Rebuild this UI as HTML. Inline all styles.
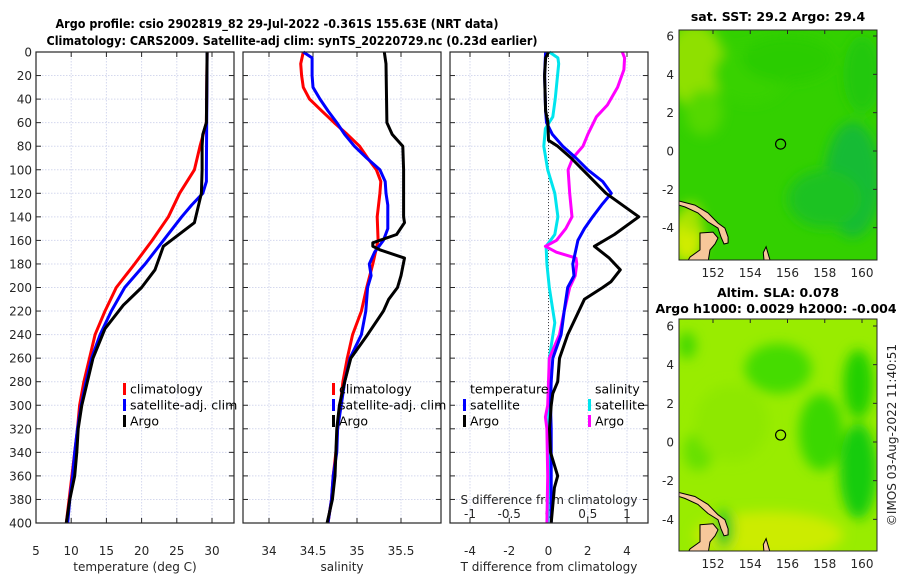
<!DOCTYPE html>
<html><head><meta charset="utf-8">
<style>
html,body{margin:0;padding:0;background:#fff;}
svg{display:block;font-family:"DejaVu Sans","Liberation Sans",sans-serif;}
.tk{font-size:12px;fill:#262626;}
.ttl{font-size:12.5px;font-weight:bold;fill:#000;}
.lg{font-size:12.5px;fill:#000;}
</style></head>
<body>
<svg id="root" width="900" height="580" viewBox="0 0 900 580" xmlns="http://www.w3.org/2000/svg">
<text class="ttl" x="277" y="28" text-anchor="middle" textLength="443" lengthAdjust="spacingAndGlyphs">Argo profile: csio 2902819_82 29-Jul-2022 -0.361S 155.63E (NRT data)</text>
<text class="ttl" x="292" y="45" text-anchor="middle" textLength="491" lengthAdjust="spacingAndGlyphs">Climatology: CARS2009. Satellite-adj clim: synTS_20220729.nc (0.23d earlier)</text>
<g id="p1"></g>
<g id="p2"></g>
<g id="p3"></g>
<g id="m1"></g>
<g id="m2"></g>
<text class="tk" transform="translate(896,435) rotate(-90)" text-anchor="middle" font-size="12.5">©IMOS 03-Aug-2022 11:40:51</text>
</svg>
<script>
// ---- data (depth in m) ----
const depthTicks = [0,20,40,60,80,100,120,140,160,180,200,220,240,260,280,300,320,340,360,380,400];
const tempTicks = [5,10,15,20,25,30];
const salTicks = [34,34.5,35,35.5];
const salTickLabels = ["34","34.5","35","35.5"];
const tdiffTicks = [-4,-2,0,2,4];
const sdiffTicks = [-1,-0.5,0,0.5,1];
const sdiffTickLabels = ["-1","-0.5","0","0.5","1"];

const tClimDepth = [0,60,80,100,120,140,160,180,200,220,240,260,280,300,320,340,360,380,400];
const tClim = [29.3,29.2,28.3,27.5,25.4,23.8,21.5,19.0,16.4,14.8,13.4,12.6,11.8,11.2,10.9,10.5,10.1,9.7,9.3];
const tSatDepth = [0,100,110,120,130,140,160,180,200,220,240,260,280,300,320,340,360,380,400];
const tSat = [29.3,29.2,29.2,28.7,27.1,25.7,23.1,20.5,17.6,15.7,14.1,12.9,12.1,11.4,10.9,10.5,10.2,9.8,9.5];
const tArgoDepth = [0,60,70,80,100,120,145,165,185,200,215,235,260,280,300,320,340,360,380,400];
const tArgo = [29.3,29.2,28.7,28.6,28.6,28.5,27.5,23.1,21.9,20.0,17.4,14.8,13.1,12.3,11.5,11.0,10.8,10.5,9.8,9.3];

const sClimDepth = [0,10,20,30,40,50,60,70,80,90,100,110,120,140,160,180,200,220,240,260,280,300,320,340,360,380,400];
const sClim = [34.39,34.36,34.37,34.39,34.46,34.60,34.74,34.89,35.03,35.12,35.22,35.27,35.26,35.23,35.24,35.18,35.11,35.05,34.95,34.89,34.84,34.81,34.78,34.76,34.73,34.71,34.67];
const sSatDepth = [0,5,20,30,40,50,60,70,80,90,100,110,120,130,150,160,170,180,190,200,220,240,260,280,300,320,340,360,380,400];
const sSat = [34.39,34.49,34.49,34.50,34.58,34.67,34.77,34.86,34.97,35.11,35.26,35.32,35.33,35.35,35.35,35.30,35.20,35.14,35.16,35.12,35.10,35.05,34.92,34.86,34.82,34.78,34.77,34.73,34.71,34.67];
const sArgoDepth = [0,10,60,70,80,100,140,145,155,162,165,168,175,190,200,210,220,240,260,280,300,320,340,360,380,400];
const sArgo = [35.31,35.33,35.34,35.40,35.52,35.53,35.53,35.54,35.45,35.18,35.18,35.26,35.54,35.50,35.46,35.36,35.30,35.12,34.93,34.86,34.80,34.77,34.76,34.75,34.72,34.66];

const dTSatDepth = [0,20,50,60,70,80,90,100,110,120,130,140,150,160,180,190,200,220,240,260,280,300,320,400];
const dTSat = [-0.15,-0.2,-0.15,-0.1,0.2,0.73,1.4,2.0,2.76,3.2,2.7,2.25,1.83,1.5,1.24,1.3,0.98,0.8,0.64,0.22,0.14,0.1,0.14,0.14];
const dTArgoDepth = [0,5,20,50,60,75,80,90,100,120,140,155,165,175,185,195,200,210,240,260,280,290,300,320,340,360,370,400];
const dTArgo = [0,-0.15,-0.2,-0.15,-0.03,0,0.47,1.15,1.75,2.93,4.6,3.36,2.34,3.1,3.66,3.19,2.76,1.83,0.98,0.56,0.47,0.22,0.14,0.05,0.1,0.47,0.3,0.14];
const dSSatDepth = [0,5,10,40,55,65,80,100,120,140,155,165,180,200,230,260,300,340,400];
const dSSat = [0.01,0.12,0.13,0.085,0.055,-0.04,-0.06,-0.01,0.08,0.12,0.08,-0.03,-0.02,0.01,0.08,0.01,0,0.01,-0.01];
const dSArgoDepth = [0,5,15,30,45,55,70,80,90,100,120,140,150,160,165,170,175,180,190,200,220,240,260,300,310,320,360,400];
const dSArgo = [0.94,0.97,0.96,0.88,0.75,0.61,0.5,0.44,0.31,0.25,0.27,0.3,0.22,0.1,-0.04,0.1,0.35,0.36,0.34,0.27,0.2,0.14,0.01,-0.01,-0.04,-0.02,-0.01,-0.02];

const lonTicks = [152,154,156,158,160];
const latTicks = [6,4,2,0,-2,-4];
const argoLon = 155.63, argoLat = 0.36;

// ---- helpers ----
const NS = "http://www.w3.org/2000/svg";
function mk(parent, tag, attrs){ const e = document.createElementNS(NS, tag); for (const k in attrs) e.setAttribute(k, attrs[k]); parent.appendChild(e); return e; }
const Y0 = 52, Y1 = 523;
function yDepth(d){ return Y0 + (d/400)*(Y1-Y0); }
function linScale(d0,d1,r0,r1){ return v => r0 + (v-d0)/(d1-d0)*(r1-r0); }

function frame(g, x0, x1, xs, xTicks, xLabels, showDepthLabels, xTickY, xLabelText){
  for (const d of depthTicks){ const y = yDepth(d);
    const l = mk(g,'line',{x1:x0,x2:x1,y1:y,y2:y,stroke:'#d4d8ee','stroke-width':1,'stroke-dasharray':'1.5,1.5'});
     
    const t1 = mk(g,'line',{x1:x0,x2:x0+5,y1:y,y2:y,stroke:'#262626'});  
    const t2 = mk(g,'line',{x1:x1-5,x2:x1,y1:y,y2:y,stroke:'#262626'});  
    if (showDepthLabels){ const t = mk(g,'text',{x:x0-4,y:y+4.5,'text-anchor':'end',class:'tk'}); t.textContent = d;
        }
  }
  xTicks.forEach((v,i)=>{ const x = xs(v);
    const l = mk(g,'line',{x1:x,x2:x,y1:Y0,y2:Y1,stroke:'#d4d8ee','stroke-width':1,'stroke-dasharray':'1.5,1.5'});
     
    const a = mk(g,'line',{x1:x,x2:x,y1:Y0,y2:Y0+5,stroke:'#262626'});  
    const b = mk(g,'line',{x1:x,x2:x,y1:Y1-5,y2:Y1,stroke:'#262626'});  
    const t = mk(g,'text',{x:x,y:xTickY,'text-anchor':'middle',class:'tk'}); t.textContent = xLabels[i];
     
  });
  const lab = mk(g,'text',{x:(x0+x1)/2,y:571,'text-anchor':'middle',class:'tk','font-size':'12.5'}); lab.textContent = xLabelText;
   
}
function border(g,x0,x1){ const r = mk(g,'rect',{x:x0,y:Y0,width:x1-x0,height:Y1-Y0,fill:'none',stroke:'#262626','stroke-width':1.2});
    }
function series(g, depths, vals, xs, color, name){
  const p = depths.map((d,i)=> (i?'L':'M') + xs(vals[i]).toFixed(1) + ',' + yDepth(d).toFixed(1)).join(' ');
  const e = mk(g,'path',{d:p,fill:'none',stroke:color,'stroke-width':3,'stroke-linejoin':'round'});
   
}
function legendRow(g, x, y, color, text, name){
  if (color){ const r = mk(g,'rect',{x:x-7,y:y-6,width:3,height:12,fill:color});   }
  const t = mk(g,'text',{x:x,y:y+4.5,class:'lg'}); t.textContent = text;
   
}

(function(){
  const g = document.getElementById('p1');
  const x0=36, x1=234; const xs = linScale(5,30,36,212);
  frame(g,x0,x1,xs,tempTicks,tempTicks.map(String),true,555,'temperature (deg C)');
  series(g,tClimDepth,tClim,xs,'#ff0000','temp-climatology-line');
  series(g,tSatDepth,tSat,xs,'#0000ff','temp-satellite-line');
  series(g,tArgoDepth,tArgo,xs,'#000000','temp-argo-line');
  border(g,x0,x1);
  legendRow(g,130,389,'#ff0000','climatology','legend-climatology');
  legendRow(g,130,405,'#0000ff','satellite-adj. clim','legend-satellite');
  legendRow(g,130,421,'#000000','Argo','legend-argo');
})();

(function(){
  const g = document.getElementById('p2');
  const x0=243, x1=441; const xs = linScale(34,35.5,269,401);
  frame(g,x0,x1,xs,salTicks,salTickLabels,false,555,'salinity');
  series(g,sClimDepth,sClim,xs,'#ff0000','sal-climatology-line');
  series(g,sSatDepth,sSat,xs,'#0000ff','sal-satellite-line');
  series(g,sArgoDepth,sArgo,xs,'#000000','sal-argo-line');
  border(g,x0,x1);
  legendRow(g,339,389,'#ff0000','climatology','legend-climatology');
  legendRow(g,339,405,'#0000ff','satellite-adj. clim','legend-satellite');
  legendRow(g,339,421,'#000000','Argo','legend-argo');
})();

(function(){
  const g = document.getElementById('p3');
  const x0=450, x1=648; const xs = linScale(-4,4,470,627);
  const ss = linScale(-1,1,470,627);
  frame(g,x0,x1,xs,tdiffTicks,tdiffTicks.map(String),false,555,'T difference from climatology');
  sdiffTicks.forEach((v,i)=>{ const t = mk(g,'text',{x:ss(v),y:518,'text-anchor':'middle',class:'tk'}); t.textContent = sdiffTickLabels[i];
      });
  const st = mk(g,'text',{x:549,y:504,'text-anchor':'middle',class:'tk','font-size':'12.5'}); st.textContent = 'S difference from climatology';
   
  const z = mk(g,'line',{x1:xs(0),x2:xs(0),y1:Y0,y2:Y1,stroke:'#444','stroke-width':1,'stroke-dasharray':'1,2'});
   
  series(g,dSSatDepth,dSSat,ss,'#00e5ee','sdiff-satellite-line');
  series(g,dSArgoDepth,dSArgo,ss,'#ff00ff','sdiff-argo-line');
  series(g,dTSatDepth,dTSat,xs,'#0000ff','tdiff-satellite-line');
  series(g,dTArgoDepth,dTArgo,xs,'#000000','tdiff-argo-line');
  border(g,x0,x1);
  legendRow(g,470,389,null,'temperature','legend-temperature-header');
  legendRow(g,470,405,'#0000ff','satellite','legend-t-satellite');
  legendRow(g,470,421,'#000000','Argo','legend-t-argo');
  legendRow(g,595,389,null,'salinity','legend-salinity-header');
  legendRow(g,595,405,'#00e5ee','satellite','legend-s-satellite');
  legendRow(g,595,421,'#ff00ff','Argo','legend-s-argo');
})();

// ---- maps ----
const newIreland = [[150.17,-2.61],[151.03,-2.82],[151.73,-3.23],[152.27,-3.76],[152.64,-4.02],[152.81,-4.49],[152.81,-4.80],[152.59,-4.85],[152.43,-4.49],[152.27,-4.02],[151.73,-3.70],[151.19,-3.23],[150.50,-2.92],[150.17,-2.82]];
const newBritain = [[151.30,-4.28],[152.0,-4.23],[152.27,-4.54],[152.11,-4.85],[151.84,-5.16],[151.73,-5.8],[150.6,-5.8],[150.77,-5.53],[151.30,-5.16],[151.30,-4.64]];
const bougainville = [[154.7,-5.3],[154.85,-5.0],[155.0,-5.5],[155.1,-5.8],[154.75,-5.8]];
function map(id, y0, y1, latAt6, latAt0, title1, title2, base, blobs, blurId){
  const g = document.getElementById(id);
  const x0=679, x1=877;
  const lx = linScale(152,160,713,862);
  const ly = linScale(0,6,latAt0,latAt6);
  const defs = mk(g,'defs',{});
  const cp = mk(defs,'clipPath',{id:id+'clip'}); mk(cp,'rect',{x:x0,y:y0,width:x1-x0,height:y1-y0});
  const f = mk(defs,'filter',{id:blurId,x:'-50%',y:'-50%',width:'200%',height:'200%'}); mk(f,'feGaussianBlur',{stdDeviation:6});
  const field = mk(g,'g',{'clip-path':'url(#'+id+'clip)'});
   
  mk(field,'rect',{x:x0,y:y0,width:x1-x0,height:y1-y0,fill:base});
  const bl = mk(field,'g',{filter:'url(#'+blurId+')'});
  blobs.forEach(b=>{ mk(bl,'ellipse',{cx:lx(b[0]),cy:ly(b[1]),rx:b[2]*18.6,ry:b[3]*19.2,fill:b[4]}); });
  [[newIreland,'new-ireland'],[newBritain,'new-britain'],[bougainville,'bougainville']].forEach(([pts,nm])=>{
    const lp = pts.map((p,i)=>(i?'L':'M')+lx(p[0]).toFixed(1)+','+ly(p[1]).toFixed(1)).join(' ')+'Z';
    const le = mk(field,'path',{d:lp,fill:'#f7c79a',stroke:'#000','stroke-width':1});
     
  });
  const c = mk(g,'circle',{cx:lx(argoLon),cy:ly(argoLat),r:5,fill:'none',stroke:'#000','stroke-width':1.2});
   
  const r = mk(g,'rect',{x:x0,y:y0,width:x1-x0,height:y1-y0,fill:'none',stroke:'#262626','stroke-width':1});
   
  lonTicks.forEach(v=>{ const t = mk(g,'text',{x:lx(v),y:y1+17,'text-anchor':'middle',class:'tk'}); t.textContent = v;
     
    const tk = mk(g,'line',{x1:lx(v),x2:lx(v),y1:y0,y2:y0+4,stroke:'#262626'});   });
  latTicks.forEach(v=>{ const t = mk(g,'text',{x:x0-5,y:ly(v)+4.5,'text-anchor':'end',class:'tk'}); t.textContent = v;
     
    const tk = mk(g,'line',{x1:x1-4,x2:x1,y1:ly(v),y2:ly(v),stroke:'#262626'});   });
  const t1 = mk(g,'text',{x:778,y:title2? y0-22 : y0-9,'text-anchor':'middle',class:'ttl'}); t1.textContent = title1;
   
  if (title2){ const t2 = mk(g,'text',{x:776,y:y0-6,'text-anchor':'middle',class:'ttl'}); t2.textContent = title2;
      }
}
map('m1',30,260,36,151,'sat. SST: 29.2 Argo: 29.4',null,'#33d000',
  [[151,4.5,1.6,2.2,'#8fe000'],[151.5,2,1,1.2,'#55d800'],[154,4,2,1.5,'#38d200'],[156,4.8,2.5,1.2,'#2ccc00'],
   [159.5,-1.5,1.5,3,'#12bb35'],[158,-2.5,2,1.5,'#1cc222'],[150.6,-4.5,0.9,1.4,'#d0ec00'],[150.8,-3.5,0.6,0.8,'#a8e400'],[160,4,1,2,'#22c810']],'b1');
map('m2',319,551,326,442,'Altim. SLA: 0.078','Argo h1000: 0.0029 h2000: -0.004','#99ec00',
  [[155.5,3.8,1.8,1.3,'#44dc00'],[157.8,0.5,1.2,2,'#3ad800'],[159.8,-1.5,1,2.5,'#18cc10'],[159.8,3,0.8,1.8,'#22d000'],
   [151.2,-0.5,0.8,1,'#66e000'],[150.6,5,0.5,0.7,'#44d800'],[155,-4.8,4,1.2,'#ccec00'],[152.6,-4.5,0.5,1,'#20c820'],[153,1,2,2,'#8ee800']],'b2');
</script>
</body></html>
